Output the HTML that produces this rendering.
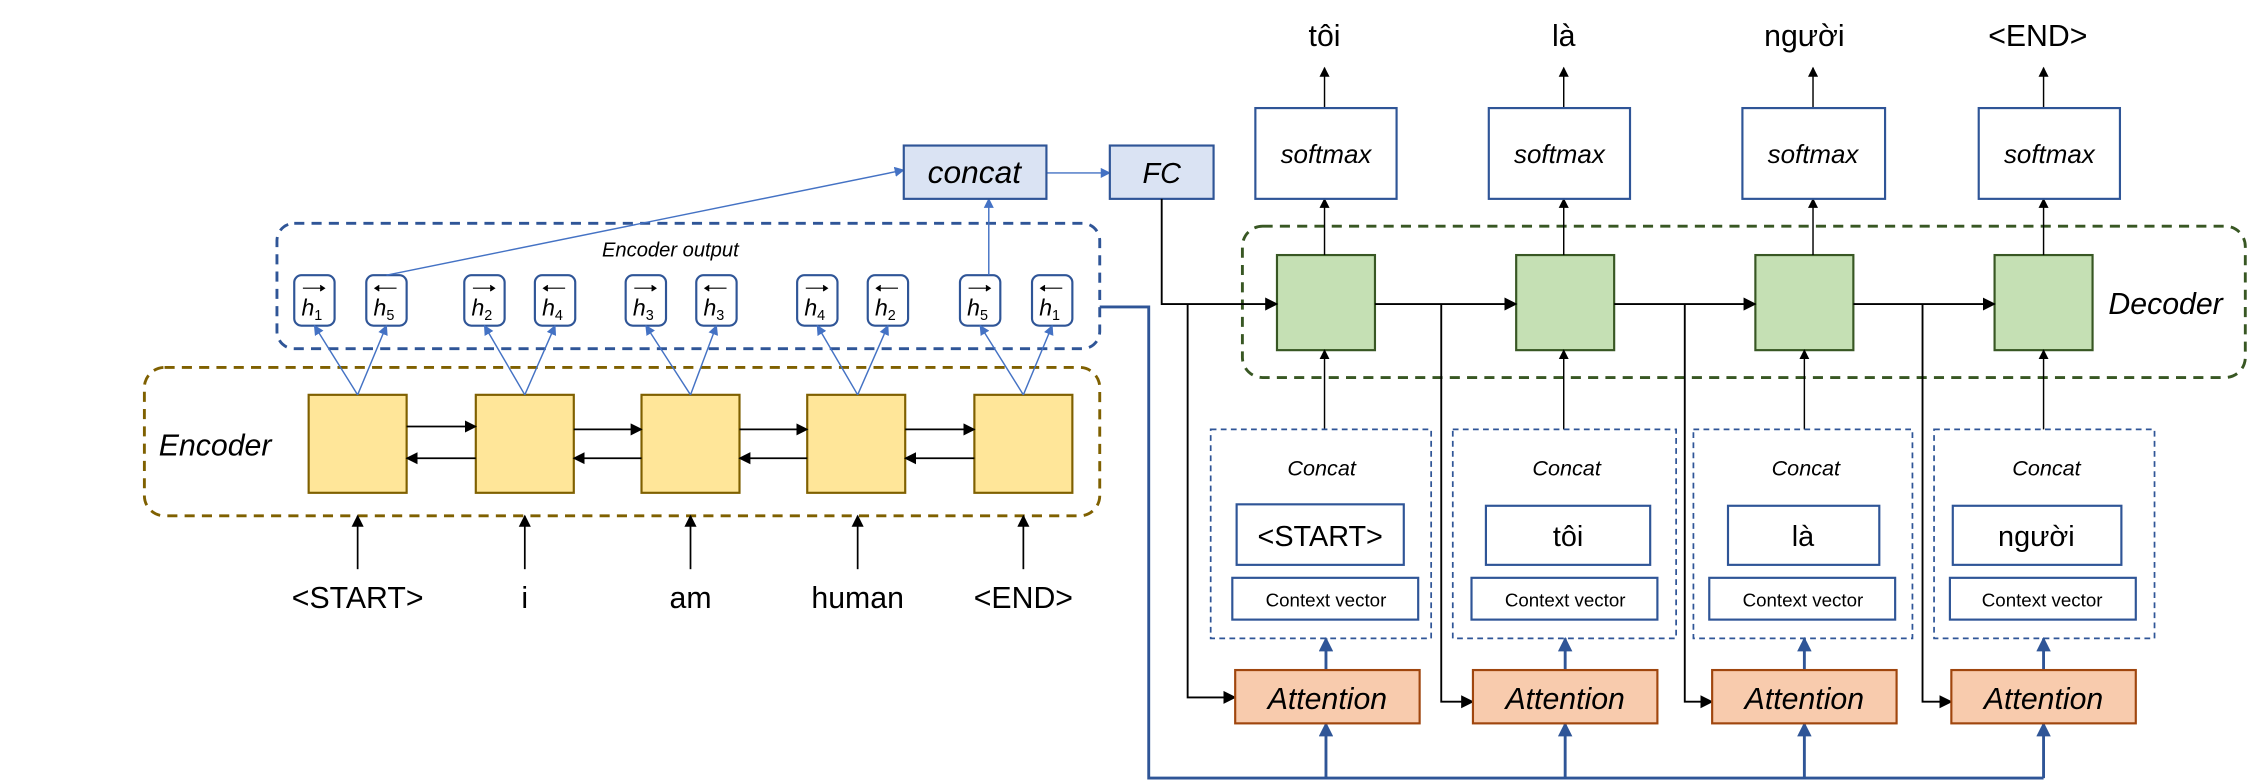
<!DOCTYPE html>
<html><head><meta charset="utf-8"><style>
html,body{margin:0;padding:0;background:#fff;}
svg{display:block;}
text{font-family:"Liberation Sans","DejaVu Sans",sans-serif;}
.it{font-style:italic;}
</style></head><body>
<svg width="2260" height="781" viewBox="0 0 1568 542" xmlns="http://www.w3.org/2000/svg">
<defs>
<marker id="ab" viewBox="0 0 10 10" refX="9" refY="5" markerWidth="7" markerHeight="7" orient="auto-start-reverse"><path d="M0,0L10,5L0,10z" fill="#000"/></marker>
<marker id="abl" viewBox="0 0 10 10" refX="9" refY="5" markerWidth="7" markerHeight="7" orient="auto"><path d="M0,0L10,5L0,10z" fill="#4472c4"/></marker>
<marker id="abd" viewBox="0 0 10 10" refX="9" refY="5" markerWidth="5" markerHeight="5" orient="auto"><path d="M0,0L10,5L0,10z" fill="#2f5597"/></marker>
</defs>

<!-- Encoder dashed box -->
<rect x="100" y="255" width="663" height="103" rx="14" fill="none" stroke="#7f6000" stroke-width="2" stroke-dasharray="7,5"/>
<text x="110" y="316" class="it" font-size="21" fill="#000">Encoder</text>
<!-- yellow blocks -->
<g fill="#ffe699" stroke="#7f6000" stroke-width="1.5">
<rect x="214" y="274" width="68" height="68"/><rect x="330" y="274" width="68" height="68"/><rect x="445" y="274" width="68" height="68"/><rect x="560" y="274" width="68" height="68"/><rect x="676" y="274" width="68" height="68"/>
</g>
<g stroke="#000" stroke-width="1.2" marker-end="url(#ab)">
<line x1="282" y1="296" x2="330" y2="296"/><line x1="398" y1="298" x2="445" y2="298"/><line x1="513" y1="298" x2="560" y2="298"/><line x1="628" y1="298" x2="676" y2="298"/>
<line x1="330" y1="318" x2="282" y2="318"/><line x1="445" y1="318" x2="398" y2="318"/><line x1="560" y1="318" x2="513" y2="318"/><line x1="676" y1="318" x2="628" y2="318"/>
<line x1="248" y1="395" x2="248" y2="358"/><line x1="364" y1="395" x2="364" y2="358"/><line x1="479" y1="395" x2="479" y2="358"/><line x1="595" y1="395" x2="595" y2="358"/><line x1="710" y1="395" x2="710" y2="358"/>
</g>
<g font-size="21" text-anchor="middle" fill="#000">
<text x="248" y="422">&lt;START&gt;</text><text x="364" y="422">i</text><text x="479" y="422">am</text><text x="595" y="422">human</text><text x="710" y="422">&lt;END&gt;</text>
</g>

<!-- Encoder output -->
<rect x="192" y="155" width="571" height="87" rx="12" fill="none" stroke="#2f5597" stroke-width="2" stroke-dasharray="7,5"/>
<text x="465" y="178" class="it" font-size="14" text-anchor="middle">Encoder output</text>
<g fill="#fff" stroke="#2f5597" stroke-width="1.5">
<rect x="204" y="191" width="28" height="35" rx="5"/><rect x="254" y="191" width="28" height="35" rx="5"/>
<rect x="322" y="191" width="28" height="35" rx="5"/><rect x="371" y="191" width="28" height="35" rx="5"/>
<rect x="434" y="191" width="28" height="35" rx="5"/><rect x="483" y="191" width="28" height="35" rx="5"/>
<rect x="553" y="191" width="28" height="35" rx="5"/><rect x="602" y="191" width="28" height="35" rx="5"/>
<rect x="666" y="191" width="28" height="35" rx="5"/><rect x="716" y="191" width="28" height="35" rx="5"/>
</g>
<g font-size="16" class="it" fill="#000">
<text x="209" y="219">h<tspan font-size="10" font-style="normal" dy="3">1</tspan></text>
<text x="259" y="219">h<tspan font-size="10" font-style="normal" dy="3">5</tspan></text>
<text x="327" y="219">h<tspan font-size="10" font-style="normal" dy="3">2</tspan></text>
<text x="376" y="219">h<tspan font-size="10" font-style="normal" dy="3">4</tspan></text>
<text x="439" y="219">h<tspan font-size="10" font-style="normal" dy="3">3</tspan></text>
<text x="488" y="219">h<tspan font-size="10" font-style="normal" dy="3">3</tspan></text>
<text x="558" y="219">h<tspan font-size="10" font-style="normal" dy="3">4</tspan></text>
<text x="607" y="219">h<tspan font-size="10" font-style="normal" dy="3">2</tspan></text>
<text x="671" y="219">h<tspan font-size="10" font-style="normal" dy="3">5</tspan></text>
<text x="721" y="219">h<tspan font-size="10" font-style="normal" dy="3">1</tspan></text>
</g>
<g stroke="#000" stroke-width="0.8" fill="#000">
<path d="M210 200h15M222 198l3 2l-3 2"/><path d="M260 200h15M263 198l-3 2l3 2"/>
<path d="M328 200h15M340 198l3 2l-3 2"/><path d="M377 200h15M380 198l-3 2l3 2"/>
<path d="M440 200h15M452 198l3 2l-3 2"/><path d="M489 200h15M492 198l-3 2l3 2"/>
<path d="M559 200h15M571 198l3 2l-3 2"/><path d="M608 200h15M611 198l-3 2l3 2"/>
<path d="M672 200h15M684 198l3 2l-3 2"/><path d="M722 200h15M725 198l-3 2l3 2"/>
</g>
<g stroke="#4472c4" stroke-width="1" marker-end="url(#abl)">
<line x1="248" y1="274" x2="218" y2="226"/><line x1="248" y1="274" x2="268" y2="226"/>
<line x1="364" y1="274" x2="336" y2="226"/><line x1="364" y1="274" x2="385" y2="226"/>
<line x1="479" y1="274" x2="448" y2="226"/><line x1="479" y1="274" x2="497" y2="226"/>
<line x1="595" y1="274" x2="567" y2="226"/><line x1="595" y1="274" x2="616" y2="226"/>
<line x1="710" y1="274" x2="680" y2="226"/><line x1="710" y1="274" x2="730" y2="226"/>
<line x1="268" y1="191" x2="627" y2="118"/><line x1="686" y1="191" x2="686" y2="138"/>
<line x1="726" y1="120" x2="770" y2="120"/>
</g>
<rect x="627" y="101" width="99" height="37" fill="#dae3f3" stroke="#2f5597" stroke-width="1.5"/>
<text x="676" y="127" class="it" font-size="22" text-anchor="middle">concat</text>
<rect x="770" y="101" width="72" height="37" fill="#dae3f3" stroke="#2f5597" stroke-width="1.5"/>
<text x="806" y="127" class="it" font-size="20" text-anchor="middle">FC</text>

<!-- Blue bus -->
<g stroke="#2f5597" stroke-width="2" fill="none">
<path d="M763 213H797V540H1418"/>
</g>
<g stroke="#2f5597" stroke-width="2" marker-end="url(#abd)">
<line x1="920" y1="540" x2="920" y2="502"/><line x1="1086" y1="540" x2="1086" y2="502"/><line x1="1252" y1="540" x2="1252" y2="502"/><line x1="1418" y1="540" x2="1418" y2="502"/>
<line x1="920" y1="465" x2="920" y2="443"/><line x1="1086" y1="465" x2="1086" y2="443"/><line x1="1252" y1="465" x2="1252" y2="443"/><line x1="1418" y1="465" x2="1418" y2="443"/>
</g>

<!-- Decoder -->
<rect x="862" y="157" width="696" height="105" rx="14" fill="none" stroke="#385723" stroke-width="2" stroke-dasharray="7,5"/>
<text x="1463" y="218" class="it" font-size="21">Decoder</text>
<g fill="#c5e0b4" stroke="#385723" stroke-width="1.5">
<rect x="886" y="177" width="68" height="66"/><rect x="1052" y="177" width="68" height="66"/><rect x="1218" y="177" width="68" height="66"/><rect x="1384" y="177" width="68" height="66"/>
</g>
<g stroke="#000" stroke-width="1.3" fill="none">
<path d="M806 138V211H886" marker-end="url(#ab)"/>
<line x1="954" y1="211" x2="1052" y2="211" marker-end="url(#ab)"/>
<line x1="1120" y1="211" x2="1218" y2="211" marker-end="url(#ab)"/>
<line x1="1286" y1="211" x2="1384" y2="211" marker-end="url(#ab)"/>
<path d="M824 211V484H857" marker-end="url(#ab)"/>
<path d="M1000 211V487H1022" marker-end="url(#ab)"/>
<path d="M1169 211V487H1188" marker-end="url(#ab)"/>
<path d="M1334 211V487H1354" marker-end="url(#ab)"/>
</g>
<g stroke="#000" stroke-width="1" marker-end="url(#ab)">
<line x1="919" y1="298" x2="919" y2="243"/><line x1="1085" y1="298" x2="1085" y2="243"/><line x1="1252" y1="298" x2="1252" y2="243"/><line x1="1418" y1="298" x2="1418" y2="243"/>
<line x1="919" y1="177" x2="919" y2="138"/><line x1="1085" y1="177" x2="1085" y2="138"/><line x1="1258" y1="177" x2="1258" y2="138"/><line x1="1418" y1="177" x2="1418" y2="138"/>
<line x1="919" y1="75" x2="919" y2="47"/><line x1="1085" y1="75" x2="1085" y2="47"/><line x1="1258" y1="75" x2="1258" y2="47"/><line x1="1418" y1="75" x2="1418" y2="47"/>
</g>
<g fill="#fff" stroke="#2f5597" stroke-width="1.5">
<rect x="871" y="75" width="98" height="63"/><rect x="1033" y="75" width="98" height="63"/><rect x="1209" y="75" width="99" height="63"/><rect x="1373" y="75" width="98" height="63"/>
</g>
<g class="it" font-size="18" text-anchor="middle">
<text x="920" y="113">softmax</text><text x="1082" y="113">softmax</text><text x="1258" y="113">softmax</text><text x="1422" y="113">softmax</text>
</g>
<g font-size="21" text-anchor="middle" font-family="Liberation Sans, Noto Sans CJK SC, sans-serif">
<text x="919" y="32">tôi</text><text x="1085" y="32">là</text><text x="1252" y="32">người</text><text x="1414" y="32">&lt;END&gt;</text>
</g>

<!-- Concat groups -->
<g fill="none" stroke="#2f5597" stroke-width="1.2" stroke-dasharray="4,3">
<rect x="840" y="298" width="153" height="145"/><rect x="1008" y="298" width="155" height="145"/><rect x="1175" y="298" width="152" height="145"/><rect x="1342" y="298" width="153" height="145"/>
</g>
<g class="it" font-size="15" text-anchor="middle">
<text x="917" y="330">Concat</text><text x="1087" y="330">Concat</text><text x="1253" y="330">Concat</text><text x="1420" y="330">Concat</text>
</g>
<g fill="#fff" stroke="#2f5597" stroke-width="1.5">
<rect x="858" y="350" width="116" height="42"/><rect x="1031" y="351" width="114" height="41"/><rect x="1199" y="351" width="105" height="41"/><rect x="1355" y="351" width="117" height="41"/>
<rect x="855" y="401" width="129" height="29"/><rect x="1021" y="401" width="129" height="29"/><rect x="1186" y="401" width="129" height="29"/><rect x="1353" y="401" width="129" height="29"/>
</g>
<g font-size="20" text-anchor="middle" font-family="Liberation Sans, Noto Sans CJK SC, sans-serif">
<text x="916" y="379">&lt;START&gt;</text><text x="1088" y="379">tôi</text><text x="1251" y="379">là</text><text x="1413" y="379">người</text>
</g>
<g font-size="13" text-anchor="middle">
<text x="920" y="421">Context vector</text><text x="1086" y="421">Context vector</text><text x="1251" y="421">Context vector</text><text x="1417" y="421">Context vector</text>
</g>

<!-- Attention -->
<g fill="#f8cbad" stroke="#a0460e" stroke-width="1.5">
<rect x="857" y="465" width="128" height="37"/><rect x="1022" y="465" width="128" height="37"/><rect x="1188" y="465" width="128" height="37"/><rect x="1354" y="465" width="128" height="37"/>
</g>
<g class="it" font-size="21" text-anchor="middle">
<text x="921" y="492">Attention</text><text x="1086" y="492">Attention</text><text x="1252" y="492">Attention</text><text x="1418" y="492">Attention</text>
</g>
</svg>
</body></html>
